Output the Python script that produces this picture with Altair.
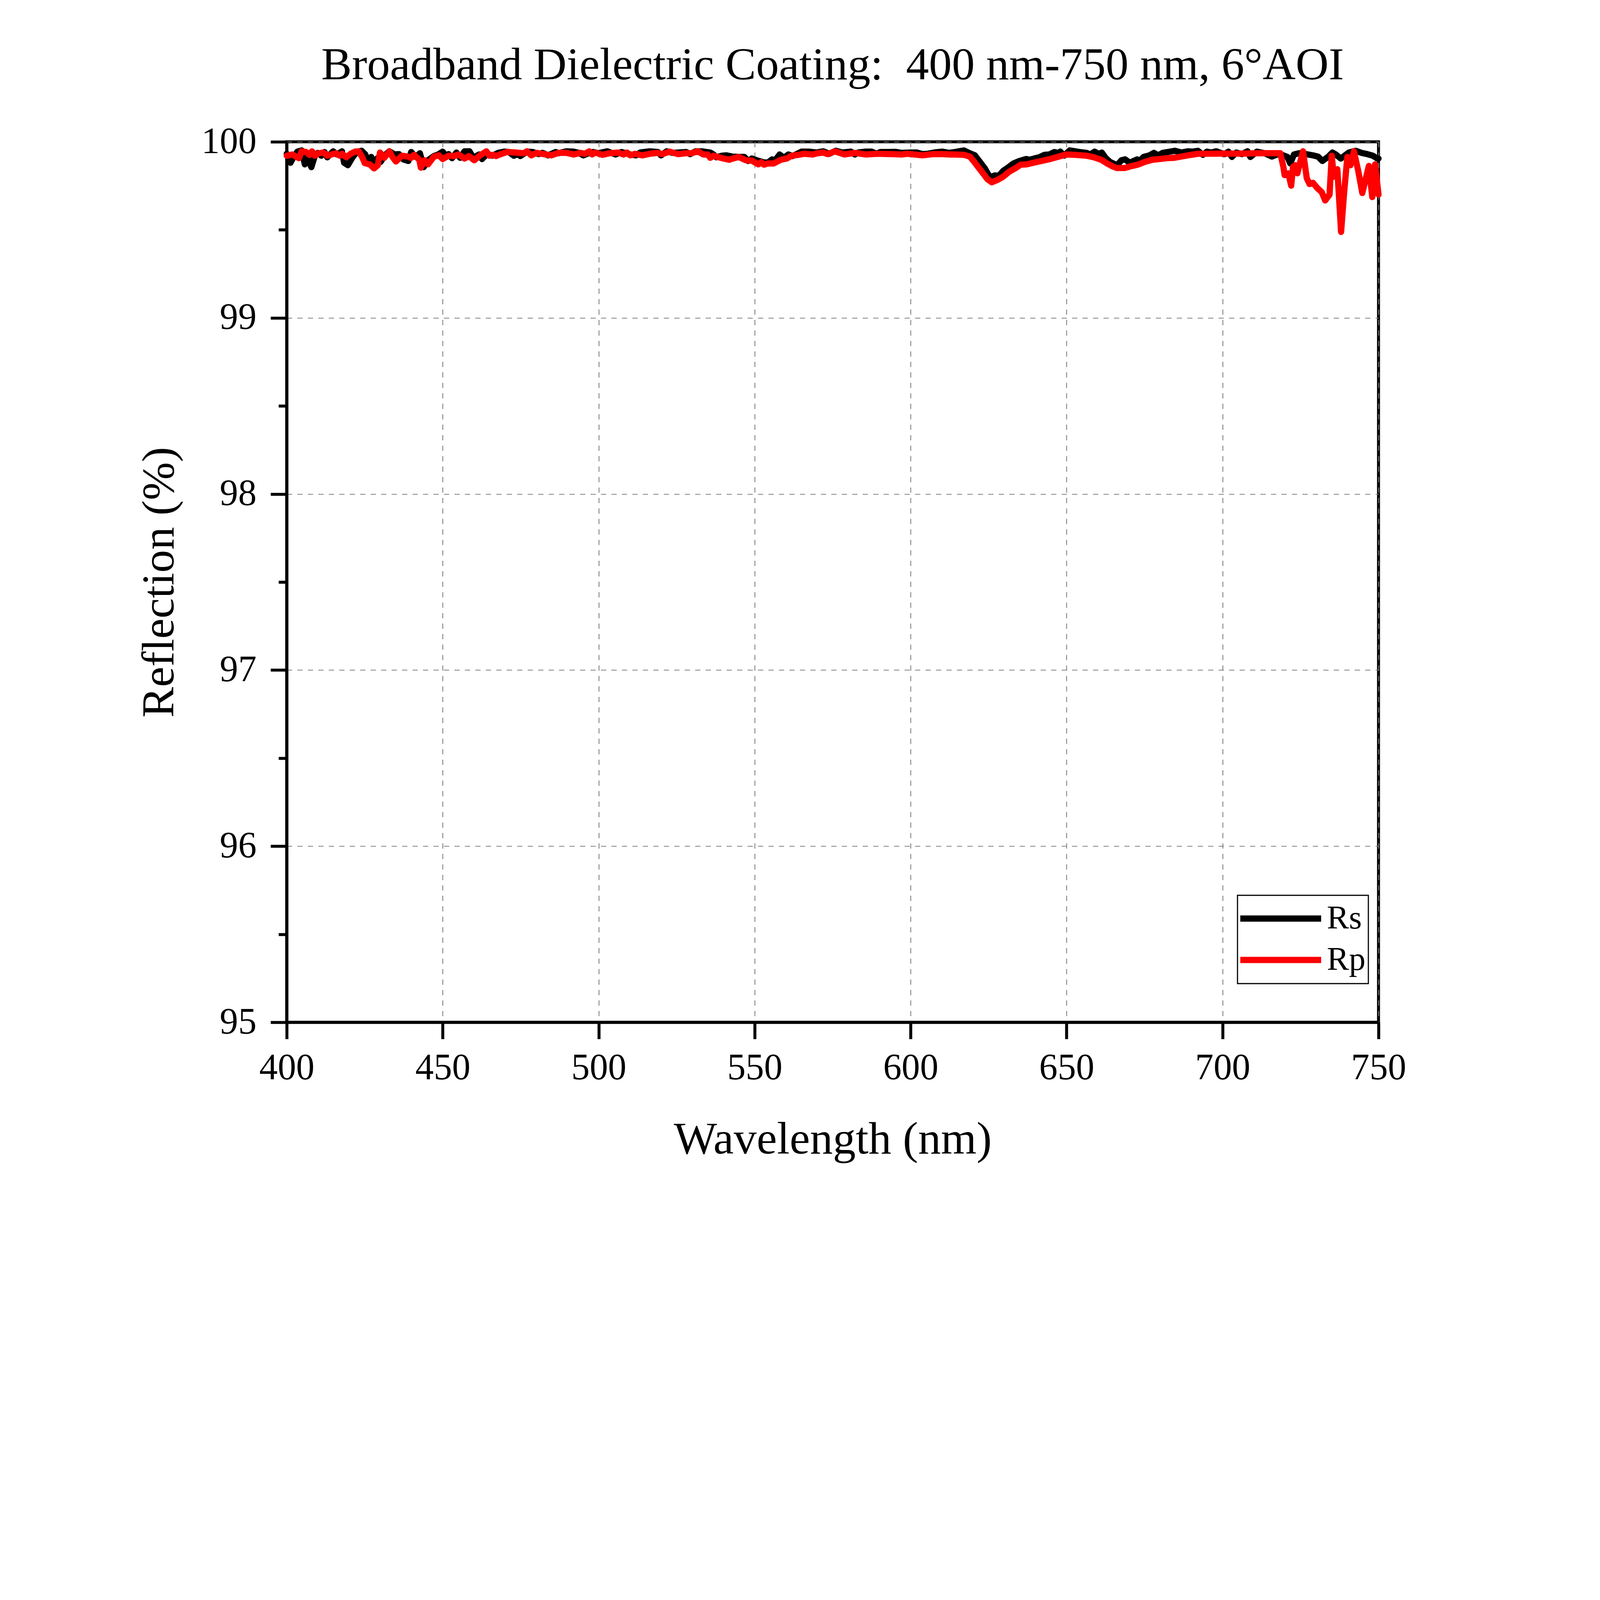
import pandas as pd
import altair as alt

# Rs (s-polarised) reflection
rs_nm = [400.0, 401.2, 402.2, 403.4, 404.8, 405.8, 406.7, 407.9, 409.0, 410.0,
         411.1, 412.1, 413.0, 414.9, 416.1, 417.7, 418.4, 419.6, 421.0, 422.4,
         424.0, 425.2, 425.9, 427.1, 428.0, 429.2, 430.1, 431.7, 432.9, 434.6,
         436.0, 437.4, 439.0, 439.9, 441.3, 442.7, 443.9, 445.3, 447.2, 448.6,
         450.0, 450.9, 451.9, 453.0, 454.4, 455.6, 457.0, 458.6, 459.8, 461.7,
         462.6, 464.3, 465.9, 467.8, 469.7, 471.2, 472.8, 474.0, 474.9, 477.0,
         478.9, 480.8, 482.0, 483.8, 486.2, 487.1, 489.7, 492.0, 493.7, 495.1,
         497.0, 498.4, 499.8, 502.8, 505.4, 507.3, 510.1, 512.0, 513.3, 516.4,
         519.0, 520.0, 521.8, 523.6, 525.7, 528.1, 529.3, 531.1, 533.0, 535.8,
         536.8, 537.7, 539.5, 541.0, 542.8, 544.9, 546.7, 547.9, 549.1, 550.7,
         552.8, 554.2, 555.6, 556.6, 558.0, 559.4, 560.8, 562.2, 565.0, 567.3,
         569.7, 572.0, 573.9, 576.0, 578.1, 580.9, 582.1, 583.2, 585.6, 587.5,
         589.1, 590.3, 593.1, 595.2, 597.0, 600.1, 602.0, 603.8, 605.5, 607.6,
         610.2, 612.3, 614.3, 617.1, 618.7, 620.6, 622.2, 623.8, 625.0, 626.0,
         626.9, 628.3, 629.7, 631.4, 633.0, 634.9, 637.0, 638.2, 639.6, 641.2,
         642.9, 644.5, 646.1, 647.3, 648.0, 649.2, 651.0, 654.1, 656.4, 657.6,
         659.0, 660.4, 661.3, 662.5, 663.9, 666.2, 667.6, 668.8, 670.2, 672.6,
         673.7, 674.7, 676.6, 678.0, 679.4, 680.8, 683.1, 684.7, 686.8, 688.9,
         690.3, 692.1, 693.7, 695.0, 696.4, 698.0, 699.4, 700.7, 701.9, 703.0,
         704.4, 706.2, 708.0, 708.9, 711.0, 713.5, 715.8, 718.1, 720.8, 721.7,
         722.9, 724.5, 726.8, 729.0, 730.6, 732.0, 733.8, 735.2, 736.3, 737.9,
         740.5, 742.7, 744.6, 746.4, 748.2, 749.4, 750.0]
rs_val = [99.932, 99.881, 99.914, 99.944, 99.951, 99.872, 99.905, 99.856, 99.919, 99.937,
          99.921, 99.942, 99.912, 99.946, 99.928, 99.946, 99.881, 99.867, 99.909, 99.942,
          99.949, 99.928, 99.891, 99.914, 99.881, 99.909, 99.886, 99.928, 99.946, 99.928,
          99.930, 99.900, 99.891, 99.942, 99.914, 99.935, 99.856, 99.895, 99.919, 99.928,
          99.944, 99.923, 99.930, 99.907, 99.939, 99.909, 99.946, 99.946, 99.909, 99.928,
          99.902, 99.932, 99.921, 99.937, 99.944, 99.942, 99.921, 99.930, 99.919, 99.944,
          99.942, 99.930, 99.937, 99.923, 99.942, 99.935, 99.946, 99.944, 99.937, 99.923,
          99.937, 99.942, 99.935, 99.946, 99.928, 99.942, 99.928, 99.923, 99.939, 99.946,
          99.942, 99.923, 99.946, 99.937, 99.939, 99.942, 99.930, 99.946, 99.946, 99.939,
          99.928, 99.912, 99.921, 99.923, 99.916, 99.914, 99.914, 99.891, 99.905, 99.895,
          99.884, 99.881, 99.900, 99.895, 99.928, 99.909, 99.928, 99.919, 99.944, 99.944,
          99.939, 99.946, 99.932, 99.949, 99.939, 99.944, 99.928, 99.939, 99.944, 99.944,
          99.932, 99.942, 99.942, 99.943, 99.937, 99.939, 99.939, 99.930, 99.932, 99.939,
          99.944, 99.937, 99.942, 99.951, 99.937, 99.923, 99.886, 99.849, 99.811, 99.800,
          99.809, 99.807, 99.835, 99.856, 99.877, 99.891, 99.902, 99.898, 99.905, 99.912,
          99.926, 99.928, 99.942, 99.937, 99.944, 99.921, 99.951, 99.942, 99.937, 99.928,
          99.944, 99.930, 99.939, 99.909, 99.886, 99.867, 99.895, 99.900, 99.881, 99.900,
          99.895, 99.914, 99.923, 99.937, 99.923, 99.937, 99.944, 99.949, 99.939, 99.946,
          99.944, 99.949, 99.926, 99.944, 99.939, 99.946, 99.937, 99.930, 99.944, 99.914,
          99.939, 99.930, 99.946, 99.914, 99.944, 99.935, 99.916, 99.932, 99.914, 99.877,
          99.928, 99.935, 99.930, 99.923, 99.916, 99.891, 99.914, 99.939, 99.928, 99.905,
          99.939, 99.949, 99.937, 99.930, 99.921, 99.907, 99.905]

# Rp (p-polarised) reflection
rp_nm = [400.0, 401.8, 402.7, 403.9, 404.8, 406.2, 407.2, 408.1, 409.0, 410.2,
         411.8, 413.0, 414.4, 415.8, 417.0, 417.8, 419.1, 420.5, 421.9, 423.1,
         424.3, 425.0, 426.6, 428.0, 429.2, 429.9, 431.3, 432.9, 433.9, 435.0,
         436.9, 438.8, 439.9, 440.8, 442.5, 443.0, 444.2, 445.3, 447.2, 448.8,
         450.0, 451.9, 453.6, 455.1, 457.0, 458.4, 460.1, 462.0, 464.0, 465.0,
         466.2, 467.1, 468.3, 470.6, 473.5, 475.9, 477.0, 478.4, 480.1, 482.4,
         484.8, 487.1, 489.5, 492.0, 494.1, 495.6, 497.0, 497.9, 498.8, 501.2,
         503.5, 506.3, 508.0, 509.1, 510.1, 511.7, 514.0, 516.4, 519.0, 520.4,
         522.7, 525.5, 527.8, 529.7, 531.8, 533.5, 534.9, 535.8, 536.8, 538.1,
         540.0, 541.9, 542.5, 544.9, 547.2, 549.1, 551.2, 552.1, 553.0, 554.2,
         556.1, 558.4, 560.3, 561.9, 564.0, 565.9, 568.7, 570.1, 572.0, 573.4,
         575.7, 578.8, 582.1, 585.6, 589.3, 594.0, 597.3, 598.9, 601.0, 603.8,
         607.1, 610.4, 612.7, 614.3, 617.1, 619.0, 620.4, 621.8, 623.2, 624.6,
         626.0, 627.9, 629.7, 631.6, 633.5, 635.3, 637.2, 638.9, 640.6, 642.4,
         644.7, 647.1, 649.9, 652.7, 656.4, 658.8, 661.1, 663.0, 664.8, 666.2,
         668.6, 670.4, 672.8, 675.1, 677.5, 679.8, 682.2, 684.5, 687.7, 688.9,
         692.1, 694.3, 699.8, 706.7, 711.2, 715.8, 718.5, 719.5, 719.9, 721.1,
         722.0, 722.6, 723.3, 724.0, 724.7, 725.8, 727.0, 727.9, 729.0, 730.4,
         731.8, 732.9, 734.3, 735.0, 735.7, 736.8, 738.0, 738.9, 740.0, 741.0,
         742.1, 743.5, 744.8, 746.9, 748.0, 748.9, 750.0]
rp_val = [99.921, 99.928, 99.919, 99.907, 99.946, 99.942, 99.926, 99.946, 99.921, 99.935,
          99.939, 99.921, 99.928, 99.935, 99.921, 99.932, 99.912, 99.932, 99.944, 99.946,
          99.909, 99.879, 99.872, 99.849, 99.867, 99.939, 99.909, 99.946, 99.914, 99.888,
          99.921, 99.916, 99.909, 99.926, 99.898, 99.853, 99.895, 99.872, 99.916, 99.923,
          99.902, 99.921, 99.919, 99.928, 99.905, 99.919, 99.895, 99.923, 99.946, 99.921,
          99.926, 99.919, 99.928, 99.942, 99.939, 99.935, 99.946, 99.923, 99.937, 99.930,
          99.923, 99.937, 99.938, 99.928, 99.937, 99.932, 99.946, 99.928, 99.939, 99.926,
          99.935, 99.939, 99.928, 99.939, 99.923, 99.932, 99.923, 99.932, 99.937, 99.930,
          99.944, 99.930, 99.935, 99.935, 99.946, 99.928, 99.928, 99.909, 99.921, 99.914,
          99.905, 99.898, 99.902, 99.914, 99.895, 99.893, 99.872, 99.884, 99.870, 99.877,
          99.877, 99.898, 99.905, 99.921, 99.926, 99.932, 99.928, 99.935, 99.939, 99.930,
          99.946, 99.928, 99.937, 99.928, 99.932, 99.930, 99.928, 99.932, 99.928, 99.923,
          99.930, 99.930, 99.928, 99.928, 99.926, 99.916, 99.886, 99.853, 99.821, 99.788,
          99.770, 99.784, 99.802, 99.830, 99.849, 99.870, 99.872, 99.879, 99.886, 99.893,
          99.902, 99.914, 99.928, 99.926, 99.921, 99.912, 99.898, 99.877, 99.860, 99.851,
          99.851, 99.860, 99.870, 99.886, 99.898, 99.902, 99.907, 99.909, 99.919, 99.923,
          99.932, 99.932, 99.933, 99.933, 99.935, 99.935, 99.935, 99.858, 99.811, 99.821,
          99.751, 99.858, 99.867, 99.821, 99.872, 99.946, 99.793, 99.760, 99.767, 99.737,
          99.714, 99.667, 99.700, 99.921, 99.802, 99.844, 99.488, 99.695, 99.914, 99.867,
          99.946, 99.835, 99.709, 99.863, 99.686, 99.872, 99.700]

series_names = ["Rs", "Rp"]
series_colors = ["#000000", "#ff0000"]
x_ticks = [400, 450, 500, 550, 600, 650, 700, 750]
y_ticks = [95, 96, 97, 98, 99, 100]
y_minor_ticks = [95.5, 96.5, 97.5, 98.5, 99.5]

rs_df = pd.DataFrame({"wavelength": rs_nm, "R": rs_val, "series": "Rs"})
rp_df = pd.DataFrame({"wavelength": rp_nm, "R": rp_val, "series": "Rp"})

FONT = "Liberation Serif"
# sizes are in CSS px; the page is shown at ~1.57 device px per CSS px
W, H = 2795, 2254

x_scale = alt.Scale(domain=[400, 750], nice=False, zero=False)
y_scale = alt.Scale(domain=[95, 100], nice=False, zero=False)

x_axis = alt.Axis(
    values=x_ticks, format="d", title="Wavelength (nm)", orient="bottom",
    domainColor="black", domainWidth=7.6,
    tickColor="black", tickWidth=7.6, tickSize=42.7,
    labelFont=FONT, labelFontSize=94.2, labelColor="black", labelPadding=28.7,
    labelFlush=False, labelLimit=0, labelOverlap=False,
    grid=True, gridColor="#808080", gridWidth=2.2, gridDash=[13.4, 13.4],
    titleFont=FONT, titleFontSize=117.2, titleFontWeight="normal", titleColor="black",
    titleX=W / 2, titleY=335, titleBaseline="alphabetic", titleAlign="center",
)
y_axis = alt.Axis(
    values=y_ticks, format="d", title="Reflection (%)", orient="left",
    domainColor="black", domainWidth=7.6,
    tickColor="black", tickWidth=7.6, tickSize=41.4,
    labelFont=FONT, labelFontSize=94.2, labelColor="black", labelPadding=36.3,
    labelFlush=False, labelLimit=0, labelOverlap=False,
    grid=True, gridColor="#808080", gridWidth=2.2, gridDash=[13.4, 13.4],
    titleFont=FONT, titleFontSize=117.2, titleFontWeight="normal", titleColor="black",
    titleAngle=-90, titleX=-290.4, titleY=H / 2, titleBaseline="alphabetic",
    titleAlign="center",
)
y_minor_axis = alt.Axis(
    values=y_minor_ticks, orient="left", title=None, labels=False,
    domain=False, grid=False, tickColor="black", tickWidth=7.6, tickSize=21,
)

legend = alt.Legend(
    title=None, orient="none", legendX=2434, legendY=1929,
    direction="vertical",
    strokeColor="black", padding=6.7, rowPadding=0, clipHeight=105.7,
    symbolType="M-1.1786,0H3.464", symbolSize=7948, symbolStrokeWidth=15.9,
    labelFont=FONT, labelFontSize=84.7, labelColor="black", labelOffset=116,
    labelLimit=0,
)
color = alt.Color(
    "series:N",
    scale=alt.Scale(domain=series_names, range=series_colors),
    legend=legend,
)

line_style = dict(strokeWidth=15.9, strokeJoin="round", strokeCap="round")

rs_line = alt.Chart(rs_df).mark_line(**line_style).encode(
    x=alt.X("wavelength:Q", scale=x_scale, axis=x_axis),
    y=alt.Y("R:Q", scale=y_scale, axis=y_axis),
    color=color,
)
rp_line = alt.Chart(rp_df).mark_line(**line_style).encode(
    x=alt.X("wavelength:Q", scale=x_scale, axis=x_axis),
    y=alt.Y("R:Q", scale=y_scale, axis=None),
    color=color,
)
# invisible layer, only there to carry the minor ticks of the y axis
minor = alt.Chart(rs_df).mark_line(opacity=0).encode(
    x=alt.X("wavelength:Q", scale=x_scale, axis=x_axis),
    y=alt.Y("R:Q", scale=y_scale, axis=y_minor_axis),
)

chart = alt.layer(rs_line, rp_line, minor).resolve_axis(
    y="independent"
).properties(
    width=W, height=H,
    background="white",
    title=alt.Title(
        "Broadband Dielectric Coating:\u00a0 400 nm-750 nm, 6°AOI",
        font=FONT, fontSize=117.2, fontWeight="normal", color="black",
        anchor="middle", frame="group", baseline="alphabetic", offset=0, dy=4.5,
    ),
    autosize=alt.AutoSizeParams(type="none"),
    padding={"left": 726, "top": 355, "right": 557, "bottom": 508},
).configure_view(
    stroke="black", strokeWidth=7.6
).configure_legend(
    strokeWidth=2.9
)

chart.save("out.html", embed_options={"renderer": "svg", "actions": False})
